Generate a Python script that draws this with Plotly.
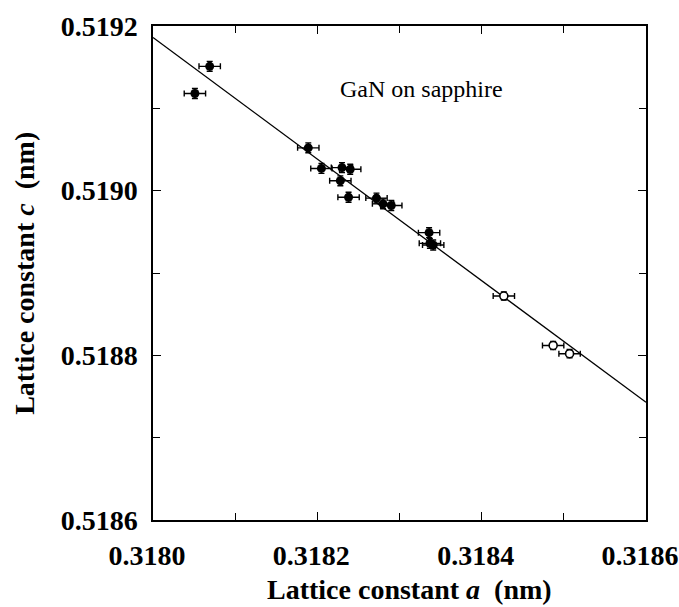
import plotly.graph_objects as go

# Lattice constants (nm) of GaN layers grown on sapphire
a_filled = [0.318051, 0.318069, 0.318189, 0.318205, 0.318230, 0.318240,
            0.318228, 0.318238, 0.318272, 0.318280, 0.318290, 0.318336,
            0.318337, 0.318341]
c_filled = [0.519118, 0.519151, 0.519052, 0.519027, 0.519028, 0.519026,
            0.519012, 0.518992, 0.518991, 0.518984, 0.518982, 0.518949,
            0.518936, 0.518934]
a_filled_err = [1.3e-5] * 14
c_filled_err = [6e-6] * 14

a_open = [0.318427, 0.318487, 0.318507]
c_open = [0.518872, 0.518812, 0.518802]
a_open_err = [1.3e-5, 1.3e-5, 1.3e-5]
c_open_err = [5e-6, 5e-6, 5e-6]

# Linear fit through the data
a_fit = [0.3180, 0.3186]
c_fit = [0.519186, 0.518743]

x_ticks = [0.3180, 0.3182, 0.3184, 0.3186]
x_labels = ["0.3180", "0.3182", "0.3184", "0.3186"]
y_ticks = [0.5186, 0.5188, 0.5190, 0.5192]
y_labels = ["0.5186", "0.5188", "0.5190", "0.5192"]

SERIF = "Liberation Serif, Times New Roman, serif"

fig = go.Figure()

fig.add_trace(go.Scatter(
    x=a_fit, y=c_fit, mode="lines",
    line=dict(color="black", width=1.3), showlegend=False, hoverinfo="skip",
))

fig.add_trace(go.Scatter(
    x=a_filled, y=c_filled, mode="markers",
    marker=dict(symbol="circle", size=9, color="black"),
    error_x=dict(type="data", array=a_filled_err, color="black", thickness=1.4, width=3),
    error_y=dict(type="data", array=c_filled_err, color="black", thickness=1.4, width=3),
    showlegend=False,
))

fig.add_trace(go.Scatter(
    x=a_open, y=c_open, mode="markers",
    marker=dict(symbol="circle", size=8, color="white",
                line=dict(color="black", width=1.6)),
    error_x=dict(type="data", array=a_open_err, color="black", thickness=1.4, width=3),
    error_y=dict(type="data", array=c_open_err, color="black", thickness=1.4, width=3),
    showlegend=False,
))

axis_common = dict(
    showgrid=False, zeroline=False, automargin=False,
    showline=True, linecolor="black", linewidth=1.5, mirror="allticks",
    ticks="inside", ticklen=8, tickwidth=1.2, tickcolor="black",
    minor=dict(ticks="inside", ticklen=7, tickwidth=1.2, tickcolor="black",
               dtick=0.0001, showgrid=False),
    tickfont=dict(family=SERIF, size=28, color="black", weight="bold"),
    ticklabeloverflow="allow",
)

fig.update_xaxes(range=[0.3180, 0.3186], tickvals=x_ticks, ticktext=x_labels,
                 ticklabelstandoff=10, ticklabelshift=-6, **axis_common)
fig.update_yaxes(range=[0.5186, 0.5192], tickvals=y_ticks, ticktext=y_labels,
                 ticklabelstandoff=8, **axis_common)

fig.add_annotation(
    text="GaN on sapphire", xref="paper", yref="paper", x=0.545, y=0.903,
    yanchor="top", showarrow=False, font=dict(family=SERIF, size=24, color="black"),
)
fig.add_annotation(
    text="Lattice constant <i>a</i>  (nm)", xref="paper", yref="paper",
    x=0.52, y=-0.14, yanchor="middle", showarrow=False,
    font=dict(family=SERIF, size=28, color="black", weight="bold"),
)
fig.add_annotation(
    text="Lattice constant <i>c</i>  (nm)", xref="paper", yref="paper",
    x=-0.262, y=0.5, xanchor="center", yanchor="middle", textangle=-90,
    showarrow=False,
    font=dict(family=SERIF, size=28, color="black", weight="bold"),
)

fig.update_layout(
    width=679, height=607,
    margin=dict(l=153, r=33, t=26, b=87, autoexpand=False),
    plot_bgcolor="white", paper_bgcolor="white",
)

fig.write_html("out.html")
